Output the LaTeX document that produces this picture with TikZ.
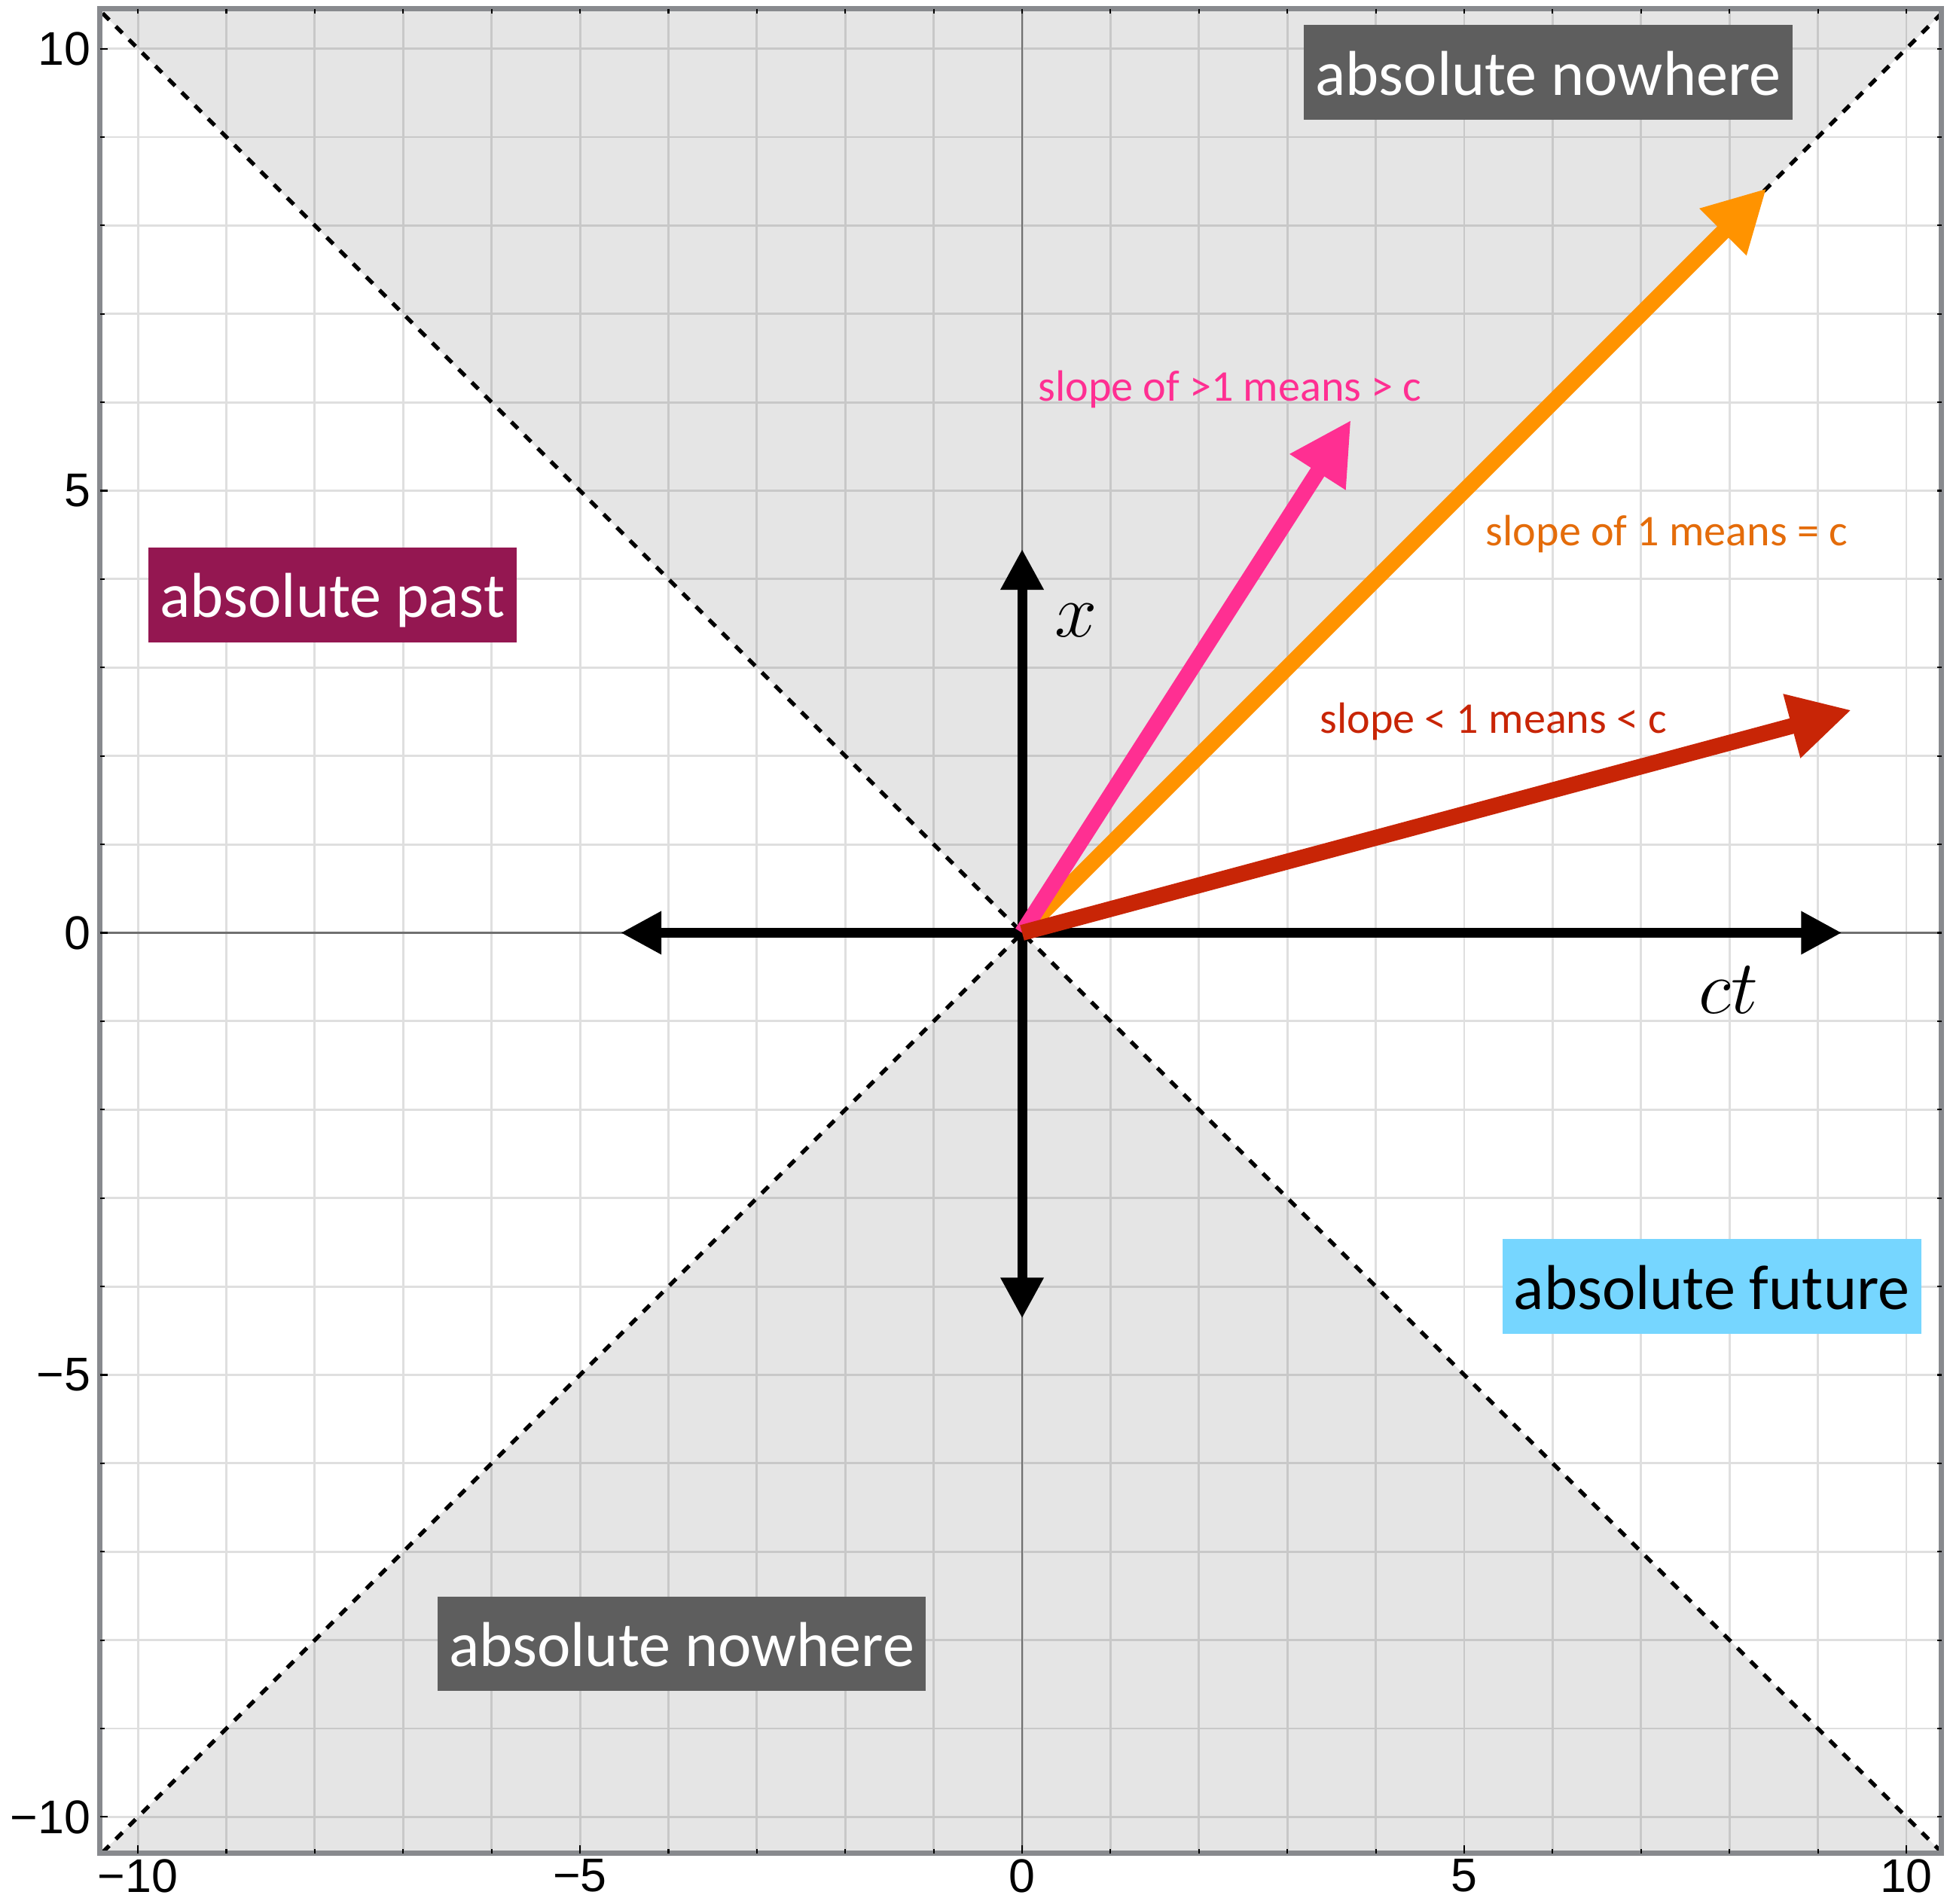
\RequirePackage{fix-cm}
\documentclass[tikz,border=0pt]{standalone}
\usepackage{fontspec}
\setmainfont{Carlito}
\newfontfamily\ticksfont{Liberation Sans}
\usepackage{tikz}
\usetikzlibrary{arrows.meta}
\definecolor{ironc}{HTML}{5E5E5E}
\definecolor{maroonc}{HTML}{941751}
\definecolor{skyc}{HTML}{76D6FF}
\definecolor{tangerinec}{HTML}{FF9300}
\definecolor{strawberryc}{HTML}{FF2F92}
\definecolor{cayennec}{HTML}{C82506}
\definecolor{orangetxt}{HTML}{E46C0A}
\definecolor{gridc}{HTML}{DFDFDF}
\definecolor{framec}{HTML}{888A8E}
\definecolor{axisc}{HTML}{707070}
\tikzset{
  region/.style   = {rectangle, inner xsep=0.13cm, inner ysep=0pt, text height=0.79cm,
                     text depth=0.28cm, font=\fontsize{20.4}{24}\selectfont},
  slopelbl/.style = {inner sep=0pt, anchor=base, font=\fontsize{14.1}{17}\selectfont},
  vec/.style      = {-{Triangle[length=0.7cm,width=0.7cm]}, line width=0.18cm},
  axisarr/.style  = {{Triangle[length=0.46cm,width=0.46cm]}-{Triangle[length=0.46cm,width=0.46cm]},
                     line width=0.11cm},
  ticklbl/.style  = {inner sep=0pt, font=\ticksfont\fontsize{15.2}{18}\selectfont},
  mathlbl/.style  = {inner sep=0pt, anchor=base, font=\fontsize{24.5}{29}\selectfont},
  cone/.style     = {dash pattern=on 3pt off 3pt, line width=1.3pt},
}

\begin{document}
\begin{tikzpicture}

\useasboundingbox (-11.56,-10.98) rectangle (10.46,10.55);
\fill[white] (-11.56,-10.98) rectangle (10.46,10.55);

% grid and light cone
\draw[gridc, line width=0.7pt] (-10.43,-10.41) grid (10.40,10.45);
\begin{scope}
  \clip (-10.43,-10.41) rectangle (10.40,10.45);
  \fill[black, opacity=0.1] (0,0) -- (-11,11) -- (11,11) -- cycle
                            (0,0) -- (-11,-11) -- (11,-11) -- cycle;
\end{scope}
\draw[axisc, line width=0.5pt] (-10.43,0) -- (10.40,0);
\draw[axisc, line width=0.5pt] (0,-10.41) -- (0,10.45);
\draw[cone] (-10.40,10.40) -- (10.38,-10.38);
\draw[cone] (-10.40,-10.40) -- (10.38,10.38);

% frame
\draw[framec, line width=1.7pt] (-10.43,-10.41) rectangle (10.40,10.45);
\foreach \t in {-10,...,10} {
  \draw[line width=0.5pt] (\t,-10.41) -- ++(0,0.05);
  \draw[line width=0.5pt] (\t,10.45) -- ++(0,-0.05);
  \draw[line width=0.5pt] (-10.43,\t) -- ++(0.05,0);
  \draw[line width=0.5pt] (10.40,\t) -- ++(-0.05,0);
}
\foreach \t in {-10,-5,0,5,10} {
  \draw[line width=0.5pt] (\t,-10.41) -- ++(0,0.09);
  \draw[line width=0.5pt] (-10.43,\t) -- ++(0.09,0);
}
\foreach \v/\s in {-10/−10,-5/−5,0/0,5/5,10/10} {
  \node[ticklbl, anchor=north] (bx\v) at (\v,-10.47) {\s};
  \node[ticklbl, anchor=east] (ly\v) at (-10.53,\v) {\s};
}

% regions
\node[region, fill=ironc, text=white] (nowheretop) at (5.95,9.73) {absolute nowhere};
\node[region, fill=ironc, text=white] (nowherebot) at (-3.85,-8.04) {absolute nowhere};
\node[region, fill=maroonc, text=white] (past) at (-7.80,3.82) {absolute past};
\node[region, fill=skyc, text=black] (future) at (7.80,-4.00) {absolute future};

% axes
\coordinate (O) at (0,0);
\coordinate (ctL) at (-4.54,0);
\coordinate (ctR) at (9.27,0);
\coordinate (xB) at (0,-4.36);
\coordinate (xT) at (0,4.34);
\draw[axisarr] (ctL) -- (ctR);
\draw[axisarr] (xB) -- (xT);
\node[mathlbl] (xlbl) at (0.61,3.35) {$x$};
\node[mathlbl] (ctlbl) at (7.99,-0.91) {$ct$};

% world lines
\coordinate (vEq) at (8.42,8.42);
\coordinate (vGt) at (3.72,5.80);
\coordinate (vLt) at (9.38,2.52);
\draw[vec, tangerinec] (O) -- (vEq);
\draw[vec, strawberryc] (O) -- (vGt);
\draw[vec, cayennec] (O) -- (vLt);
\node[slopelbl, text=strawberryc] (gtlbl) at (2.35,6.01) {slope of >1 means > c};
\node[slopelbl, text=orangetxt] (eqlbl) at (7.29,4.38) {slope of 1 means = c};
\node[slopelbl, text=cayennec] (ltlbl) at (5.33,2.255) {slope < 1 means < c};

\end{tikzpicture}
\end{document}
